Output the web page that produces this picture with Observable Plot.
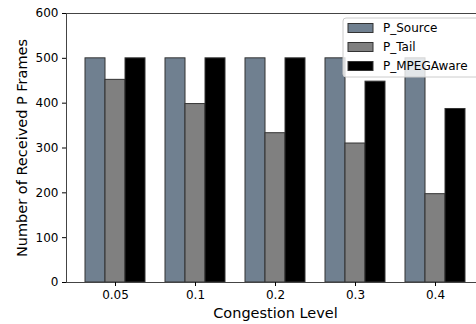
<!DOCTYPE html>
<html>
<head>
<meta charset="utf-8">
<script src="https://cdn.jsdelivr.net/npm/d3@7"></script>
<script src="https://cdn.jsdelivr.net/npm/@observablehq/plot@0.6"></script>
<style>
html, body { margin: 0; padding: 0; background: #fff; overflow: hidden; }
#chart svg { display: block; max-width: none !important; width: 490px !important; height: 324px !important; }
</style>
</head>
<body>
<div id="chart"></div>
<script>
const categories = ["0.05", "0.1", "0.2", "0.3", "0.4"];
const seriesNames = ["P_Source", "P_Tail", "P_MPEGAware"];
const pSource = [500, 500, 500, 500, 500];
const pTail = [452, 398, 333, 310, 197];
const pMpeg = [500, 500, 500, 448, 387];
const seriesColors = ["#708090", "#808080", "#000000"];
const yTicks = [0, 100, 200, 300, 400, 500, 600];

const seriesValues = [pSource, pTail, pMpeg];
const barWidth = 0.25;
const rows = [];
categories.forEach((c, i) => {
  seriesNames.forEach((s, j) => {
    const center = i + (j - 1) * barWidth;
    rows.push({cat: c, series: s, x1: center - barWidth / 2, x2: center + barWidth / 2, value: seriesValues[j][i]});
  });
});

const font = "DejaVu Sans, sans-serif";
const chart = Plot.plot({
  width: 490,
  height: 324,
  marginLeft: 66,
  marginRight: 6,
  marginTop: 13,
  marginBottom: 42,
  style: {fontFamily: font, fontSize: "12px", color: "#000", background: "#fff"},
  x: {domain: [-0.6125, 4.6125]},
  y: {domain: [0, 600]},
  color: {domain: seriesNames, range: seriesColors},
  marks: [
    Plot.rectY(rows, {x1: "x1", x2: "x2", y1: 0, y2: "value", fill: "series", stroke: "#333", strokeWidth: 1}),
    Plot.frame({stroke: "#444", strokeWidth: 1}),
    Plot.axisX({ticks: d3.range(categories.length), tickFormat: i => categories[i], tickSize: 4, tickPadding: 4, label: null, fontSize: 12}),
    Plot.axisY({ticks: yTicks, tickSize: 4, tickPadding: 4, label: null, fontSize: 12}),
    Plot.text(["Congestion Level"], {frameAnchor: "bottom", dy: 31, lineAnchor: "middle", fontSize: 14.5}),
    Plot.text(["Number of Received P Frames"], {frameAnchor: "left", dx: -44, rotate: -90, textAnchor: "middle", lineAnchor: "middle", fontSize: 14.5})
  ]
});

// legend (matplotlib-style, upper right inside the axes)
const svg = d3.select(chart);
const lg = svg.append("g").attr("transform", "translate(343,18)").attr("text-anchor", "start");
lg.append("rect").attr("x", 0).attr("y", 0).attr("width", 140).attr("height", 59).attr("rx", 3)
  .attr("fill", "#fff").attr("fill-opacity", 0.8).attr("stroke", "#ccc").attr("stroke-width", 1);
seriesNames.forEach((s, j) => {
  const cy = 10 + j * 19;
  lg.append("rect").attr("x", 5).attr("y", cy - 4.5).attr("width", 25).attr("height", 9)
    .attr("fill", seriesColors[j]).attr("stroke", "#333").attr("stroke-width", 1);
  lg.append("text").attr("x", 40).attr("y", cy).attr("dy", "0.35em").attr("text-anchor", "start")
    .attr("font-family", font).attr("font-size", 12).attr("fill", "#000").text(s);
});

document.getElementById("chart").appendChild(chart);
</script>
</body>
</html>
